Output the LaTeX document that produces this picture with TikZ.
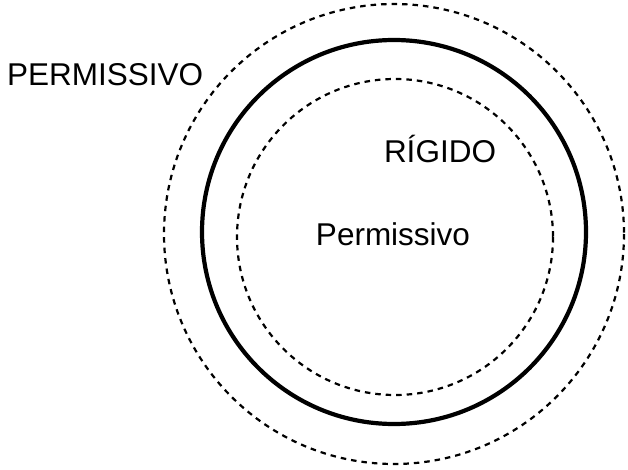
\documentclass[tikz,border=0pt]{standalone}
\usepackage{fontspec}
\setmainfont{Liberation Sans}
\begin{document}
\begin{tikzpicture}[x=1pt,y=-1pt,
  dashedring/.style={draw=black,line width=2.2pt,dash pattern=on 5.5pt off 5pt},
  solidring/.style={draw=black,line width=4.2pt},
  lbl/.style={inner sep=0pt,font=\fontsize{31.5}{37}\selectfont}]
\useasboundingbox (0,0) rectangle (628,470);
\draw[dashedring] (394,234) circle (230);
\draw[solidring] (394,232) circle (192);
\draw[dashedring] (395,237) circle (158);
\node[lbl,anchor=base west] (outer) at (7,86) {PERMISSIVO};
\node[lbl,anchor=base] (rig) at (440,163) {RÍGIDO};
\node[lbl,anchor=base] (inn) at (393,245) {Permissivo};
\end{tikzpicture}
\end{document}
